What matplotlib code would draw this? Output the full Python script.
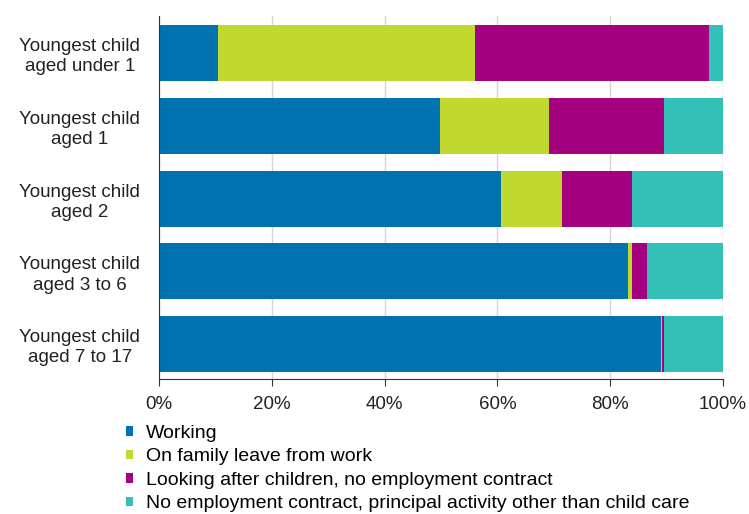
import numpy as np
import matplotlib.pyplot as plt

plt.rcParams['font.family'] = ['Liberation Sans', 'DejaVu Sans']

groups = ['Youngest child\naged under 1', 'Youngest child\naged 1', 'Youngest child\naged 2',
          'Youngest child\naged 3 to 6', 'Youngest child\naged 7 to 17']
working = [10.4, 49.9, 60.6, 83.1, 89.0]
family_leave = [45.7, 19.3, 10.9, 0.8, 0.1]
looking_after = [41.5, 20.4, 12.4, 2.6, 0.5]
other = [2.4, 10.4, 16.1, 13.5, 10.4]

series = [
    ('Working', working, '#0072B0'),
    ('On family leave from work', family_leave, '#C1D82F'),
    ('Looking after children, no employment contract', looking_after, '#A4007F'),
    ('No employment contract, principal activity other than child care', other, '#33C1B7'),
]

W, H = 749, 514
fig = plt.figure(figsize=(W / 100, H / 100), dpi=100)
ax = fig.add_axes([159 / W, 1 - 379 / H, 564 / W, 363 / H])

y = np.arange(len(groups))
left = np.zeros(len(groups))
for name, vals, col in series:
    ax.barh(y, vals, left=left, height=0.77, color=col, label=name, zorder=2)
    left += np.array(vals)

ax.set_ylim(4.48, -0.51)
ax.set_xlim(0, 100)
ax.set_yticks(y)
ax.set_yticklabels(groups, fontsize=13.5, ha='center', color='#222222', linespacing=1.25)
ax.tick_params(axis='y', length=0, pad=57)
ax.set_xticks(np.arange(0, 101, 20))
ax.set_xticklabels([f'{v}%' for v in range(0, 101, 20)], fontsize=13.5, color='#222222')
ax.tick_params(axis='x', length=5, color='#333333', pad=7)
ax.grid(axis='x', color='#d6d6d6', linewidth=1, zorder=0)

for s in ['top', 'right']:
    ax.spines[s].set_visible(False)
ax.spines['left'].set_color('#333333')
ax.spines['bottom'].set_color('#333333')

handles, labels = ax.get_legend_handles_labels()
fig.legend(handles, labels, loc='upper left', bbox_to_anchor=(126 / W, 1 - 425 / H),
           frameon=False, fontsize=14, handlelength=0.38, handleheight=0.38,
           handletextpad=0.66, labelspacing=0.33, borderaxespad=0, borderpad=0)

fig.savefig('out.png', dpi=100)
